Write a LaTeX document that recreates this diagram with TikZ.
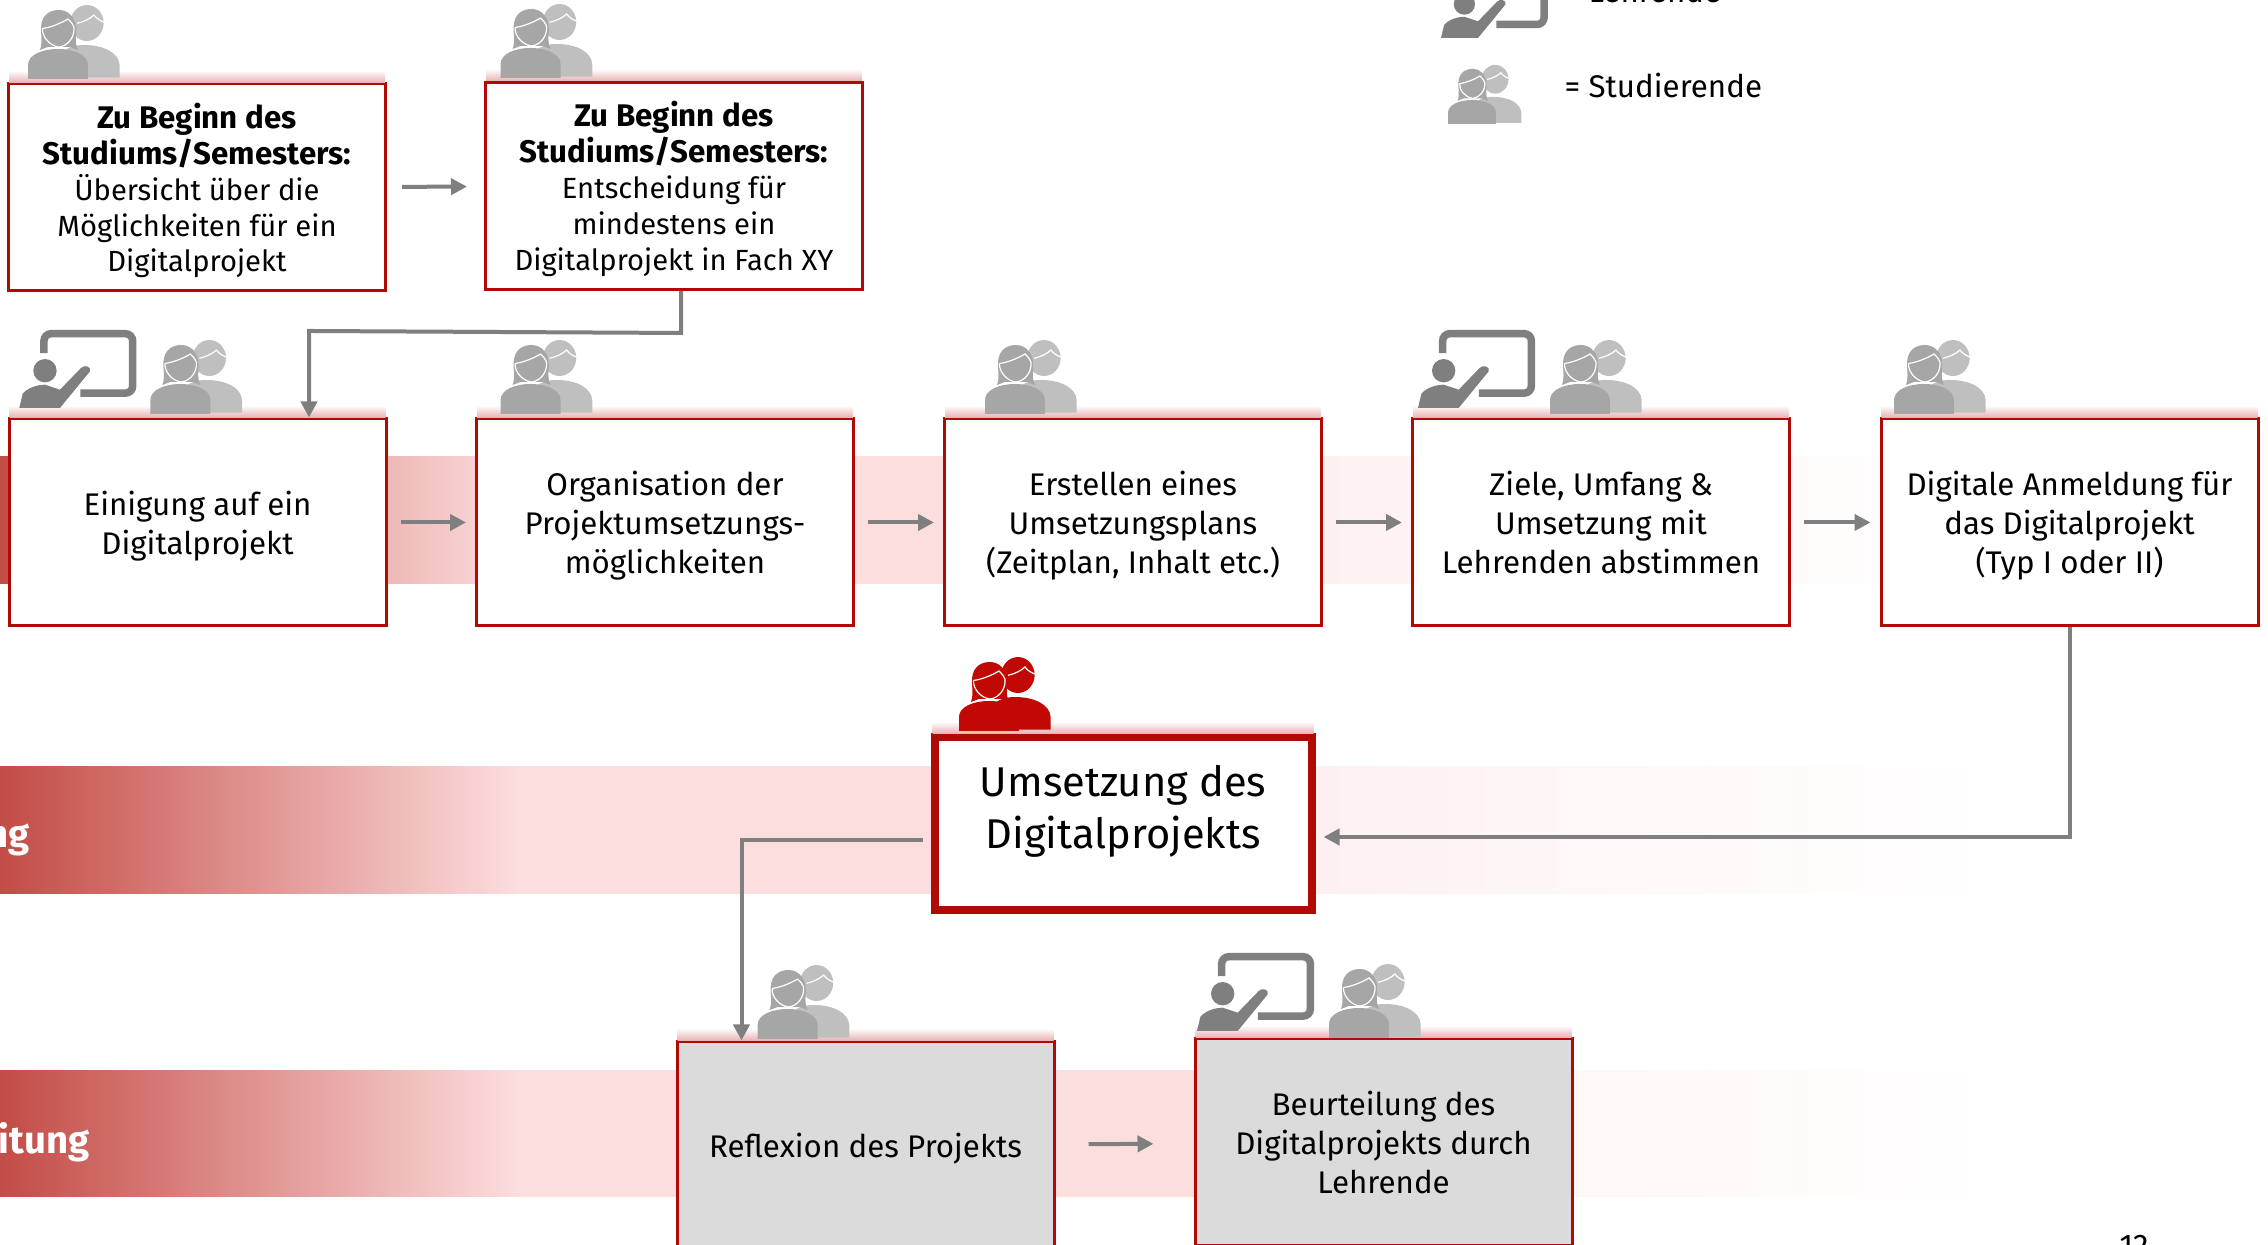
\documentclass[tikz,border=0pt]{standalone}
\usepackage{fontspec}
\setmainfont{Fira Sans}
\usetikzlibrary{arrows.meta,calc}
\definecolor{boxRed}{HTML}{B00A05}
\definecolor{lineGray}{HTML}{7F7F7F}
\definecolor{boxGray}{HTML}{DBDBDB}
\definecolor{bandA}{HTML}{C34C46}
\definecolor{bandC}{HTML}{FDDEDF}
\definecolor{bandD}{HTML}{FEF0F0}
\definecolor{bandE}{HTML}{FEF7F7}
\pgfdeclarehorizontalshading{bandShade}{100bp}{color(0bp)=(bandA); color(25bp)=(bandA); color(36.5bp)=(bandC); color(51.5bp)=(bandC); color(54.1bp)=(bandD); color(59.7bp)=(bandE); color(68.9bp)=(white); color(100bp)=(white)}
\tikzstyle{nBox}=[rectangle,minimum width=3.77cm,minimum height=2.07cm,inner sep=0pt,draw=boxRed,fill=white,line width=0.03cm,align=center,text depth=0pt,font=\fontsize{8.9}{11.1}\selectfont]
\tikzstyle{nTop}=[nBox,font=\fontsize{8.3}{10.2}\selectfont]
\tikzstyle{nMain}=[nBox,minimum height=1.73cm,line width=0.08cm,text depth=0.34cm,font=\fontsize{11.84}{14.7}\selectfont]
\tikzstyle{nGray}=[nBox,fill=boxGray]
\tikzstyle{nBand}=[anchor=base east,inner sep=0pt,text=white,font=\fontsize{10.9}{12}\selectfont\bfseries]
\tikzstyle{nNote}=[anchor=base west,inner sep=0pt,font=\fontsize{8.9}{11}\selectfont]
\tikzstyle{eArrow}=[draw=lineGray,line width=0.04cm,-{Triangle[length=0.16cm,width=0.16cm]}]
\tikzstyle{eStep}=[eArrow,shorten <=0.13cm,shorten >=0.09cm]
\tikzstyle{glow}=[top color=white,bottom color=red!70!black!30]
\tikzset{
  pics/students/.style n args={2}{code={
    \begin{scope}[x=0.01cm,y=0.01cm]
      \fill[#2] (36,28) .. controls (42,33) and (50,34) .. (56,34) .. controls (76,34) and (91,26) .. (91.7,14) -- (91.7,1.3) -- (56,1.3) -- cycle;
      \fill[#2] (59,56) ellipse (16.7 and 18);
      \draw[white,line width=0.012cm] (49,55.7) .. controls (55,57) and (62,60) .. (66,64) .. controls (69,60) and (73,58) .. (76,57);
      \fill[#1] (12,29) .. controls (15,38) and (12.5,45) .. (13,52) .. controls (14,66) and (24,69) .. (31,69) .. controls (40,69) and (47,62) .. (48,52) .. controls (49,44) and (46,38) .. (50,29) -- (42,32) -- (20,32) -- cycle;
      \draw[white,line width=0.012cm] (14.5,50.5) .. controls (25,52) and (35,57) .. (40,60) .. controls (43,57) and (45,55) .. (46,52) .. controls (47,42) and (40,33) .. (31,32) .. controls (22,33) and (14,42) .. (14.5,50.5);
      \fill[#1] (0,0) -- (60,0) -- (60,14) .. controls (60,24) and (46,30) .. (30,30) .. controls (14,30) and (0,24) .. (0,14) -- cycle;
    \end{scope}
  }},
  pics/teacher/.style={code={
    \begin{scope}[x=0.01cm,y=0.01cm]
      \draw[lineGray,line width=0.075cm,rounded corners=2] (24.7,55) -- (24.7,74.3) -- (113.4,74.3) -- (113.4,14.9) -- (61,14.9);
      \fill[lineGray] (25.7,37.3) circle (11.7);
      \fill[lineGray] (0,0) -- (3.4,14.3) .. controls (8,20) and (18,23.3) .. (25.7,23.3) -- (40.7,18.3) -- (61.7,40) .. controls (65,44) and (73,41) .. (70.7,36.6) -- (40.7,0) -- cycle;
    \end{scope}
  }}
}
\newcommand{\glowBar}[1]{\shade[glow] ($(#1.north west)+(0.02,0.12)$) rectangle ($(#1.north east)+(-0.02,0)$);}
\newcommand{\hdText}[1]{{\fontsize{8.9}{10.6}\selectfont\bfseries #1}}
\begin{document}
\begin{tikzpicture}[scale=1]

                \useasboundingbox (0,0) rectangle (22.68,12.45);

                % bands
                \shade[shading=bandShade] (0,6.61) rectangle (22.68,7.88);
                \shade[shading=bandShade] (0,3.515) rectangle (22.68,4.78);
                \shade[shading=bandShade] (0,0.48) rectangle (22.68,1.74);
                \draw (0.30,3.97) node[nBand] (lb0) {ng};
                \draw (0.90,0.91) node[nBand] (lb1) {itung};

                % legend
                \draw (15.64,12.42) node[nNote] (lg0) {= Lehrende};
                \draw (15.64,11.475) node[nNote] (lg1) {= Studierende};
                \draw (21.34,-0.12) node[nNote,anchor=base] (pg) {12};

                % boxes
                \draw (1.97,10.575) node[nTop] (nA) {\hdText{Zu Beginn des}\\\hdText{Studiums/Semesters:}\\Übersicht über die\\Möglichkeiten für ein\\Digitalprojekt};
                \draw (6.74,10.59) node[nTop] (nB) {\hdText{Zu Beginn des}\\\hdText{Studiums/Semesters:}\\Entscheidung für\\mindestens ein\\Digitalprojekt in Fach XY};
                \draw (1.975,7.225) node[nBox] (n1) {Einigung auf ein\\Digitalprojekt};
                \draw (6.65,7.225) node[nBox] (n2) {Organisation der\\Projektumsetzungs-\\möglichkeiten};
                \draw (11.33,7.225) node[nBox] (n3) {Erstellen eines\\Umsetzungsplans\\(Zeitplan, Inhalt etc.)};
                \draw (16.01,7.225) node[nBox] (n4) {Ziele, Umfang \&\\Umsetzung mit\\Lehrenden abstimmen};
                \draw (20.695,7.225) node[nBox] (n5) {Digitale Anmeldung für\\das Digitalprojekt\\(Typ I oder II)};
                \draw (11.23,4.21) node[nMain] (nU) {Umsetzung des\\Digitalprojekts};
                \draw (8.655,0.995) node[nGray] (nR) {Reflexion des Projekts};
                \draw (13.835,1.025) node[nGray] (nS) {Beurteilung des\\Digitalprojekts durch\\Lehrende};

                \glowBar{nA} \glowBar{nB} \glowBar{n1} \glowBar{n2} \glowBar{n3}
                \glowBar{n4} \glowBar{n5} \glowBar{nU} \glowBar{nR} \glowBar{nS}

                % icons
                \foreach \px/\py in {0.28/11.66,5.006/11.67,1.504/8.31,5.006/8.31,9.85/8.31,15.5/8.31,18.94/8.31,7.576/2.06,13.29/2.07}
                    \pic at (\px,\py) {students={black!35}{black!25}};
                \pic at (9.59,5.14) {students={boxRed!80!red}{boxRed!80!red}};
                \pic[scale=0.8] at (14.48,11.21) {students={black!35}{black!25}};
                \foreach \px/\py in {0.193/8.37,14.18/8.37,11.97/2.14}
                    \pic at (\px,\py) {teacher};
                \pic[scale=0.91] at (14.41,12.07) {teacher};

                % connectors
                \coordinate (c0) at (6.81,9.12);
                \coordinate (c1) at (3.09,9.14);
                \coordinate (c2) at (13.235,4.08);
                \coordinate (c3) at (9.225,4.05);
                \coordinate (c4) at (7.415,4.05);
                \draw[eArrow] (nB.south -| c0) -- (c0) -- (c1) -- (c1 |- n1.north);
                \draw[eArrow] (n5.south) |- (c2);
                \draw[eArrow] (c3) -- (c4) -- (c4 |- nR.north);
                \path
                    (nA) edge[eStep,shorten <=0.15cm,shorten >=0.17cm] (nB)
                    (n1) edge[eStep] (n2)
                    (n2) edge[eStep] (n3)
                    (n3) edge[eStep] (n4)
                    (n4) edge[eStep] (n5)
                    (nR) edge[eStep,shorten <=0.33cm,shorten >=0.40cm] (nS)
                ;

\end{tikzpicture}
\end{document}
